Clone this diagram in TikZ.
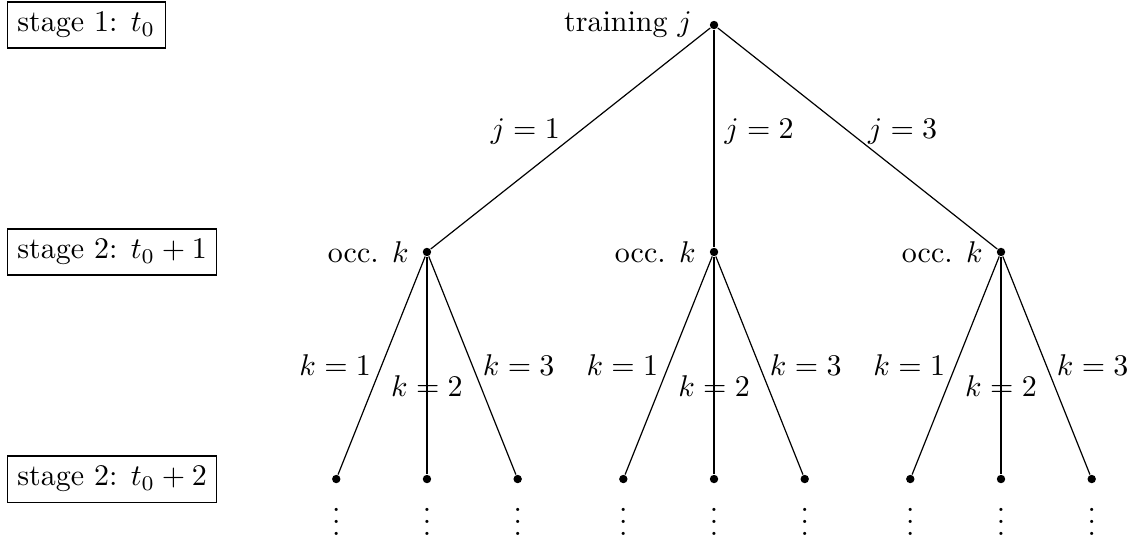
\documentclass[tikz,border=0pt]{standalone}
\usetikzlibrary{positioning}

\begin{document}
\begin{tikzpicture}[
    dot/.style={circle, fill, inner sep=0pt, minimum size=2.8pt},
    stagebox/.style={draw, anchor=west}]
    \useasboundingbox (0,0) rectangle (13.367,-6.338);
    % Stage boxes
    \node[stagebox] (s1) at (0.08,-0.293) {stage 1: $t_0$};
    \node[stagebox] (s2) at (0.08,-2.952) {stage 2: $t_0+1$};
    \node[stagebox] (s3) at (0.08,-5.612) {stage 2: $t_0+2$};
    % Root
    \node[dot] (root) at (8.365,-0.293) {};
    \node[left=2.3pt of root] (rootlbl) {training $j$};
    % Occupation nodes and their children
    \foreach \j/\x/\p in {1/5.002/base east, 2/8.365/base west, 3/11.727/base west} {
        \node[dot] (o\j) at (\x,-2.952) {};
        \node[left=1pt of o\j] (olbl\j) {occ. $k$};
        \draw (root) -- node[anchor=\p] {$j=\j$} (o\j);
        \foreach \k/\dx/\q in {1/-1.0626/left, 2/0/below, 3/1.0626/right} {
            \node[dot] (g\j\k) at (\x+\dx,-5.612) {};
            \node (v\j\k) at (\x+\dx,-6.01) {$\vdots$};
            \draw (o\j) -- node[\q] {$k=\k$} (g\j\k);
        }
    }
\end{tikzpicture}
\end{document}
